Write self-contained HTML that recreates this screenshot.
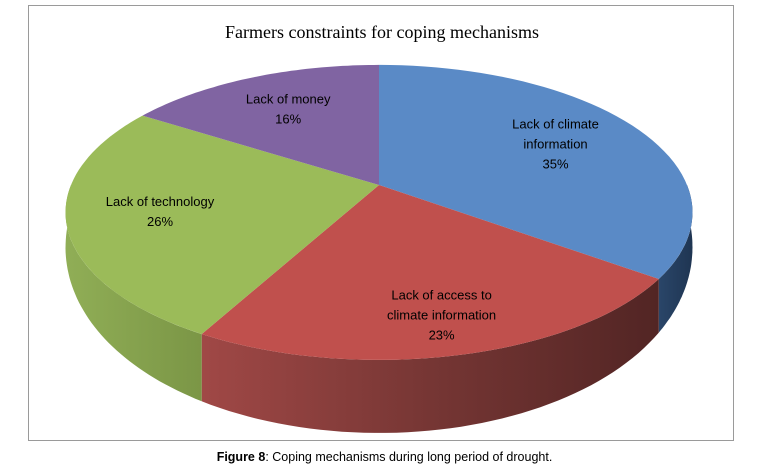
<!DOCTYPE html>
<html><head><meta charset="utf-8"><style>
body{margin:0;background:#fff;width:769px;height:469px;overflow:hidden;font-family:"Liberation Sans",sans-serif}
#frame{position:absolute;left:28px;top:5px;width:706px;height:436px;border:1px solid #9a9a9a;box-sizing:border-box}
#cap{position:absolute;left:0;width:769px;top:450px;text-align:center;font-size:12.5px;color:#000}
</style></head><body>
<div id="frame"></div>
<svg id="chart" width="769" height="445" style="position:absolute;left:0;top:0">
<defs>
<linearGradient id="gBlue" x1="0" x2="1"><stop offset="0" stop-color="#2a4669"/><stop offset="1" stop-color="#1f3552"/></linearGradient>
<linearGradient id="gRed" x1="0" x2="1"><stop offset="0" stop-color="#a04846"/><stop offset="0.5" stop-color="#763634"/><stop offset="1" stop-color="#522524"/></linearGradient>
<linearGradient id="gGreen" x1="0" x2="1"><stop offset="0" stop-color="#90ae56"/><stop offset="1" stop-color="#7b9646"/></linearGradient>
<linearGradient id="gPurple" x1="0" x2="1"><stop offset="0" stop-color="#6a538a"/><stop offset="1" stop-color="#5a4676"/></linearGradient>
</defs>
<text x="382" y="38" text-anchor="middle" font-family="Liberation Serif, serif" font-size="18" fill="#000">Farmers constraints for coping mechanisms</text>
<g id="sides"></g><g id="tops"></g><g id="labels"></g>
</svg>
<div id="cap"><b>Figure 8</b>: Coping mechanisms during long period of drought.</div>
<script>
const categories = ["Lack of climate information", "Lack of access to climate information", "Lack of technology", "Lack of money"];
const values = [35, 23, 26, 16];
const labelLines = [["Lack of climate","information","35%"],["Lack of access to","climate information","23%"],["Lack of technology","26%"],["Lack of money","16%"]];
const topColors = ["#5a8ac6","#c0504d","#9bbb59","#8064a2"];
const sideFills = ["url(#gBlue)","url(#gRed)","url(#gGreen)","url(#gPurple)"];
const cx=379, cy=185, A=308, B=142.4, K=0.186, D0=26, D1=47;
const ns="http://www.w3.org/2000/svg";
function proj(a,r,bottom){
  const u=Math.sin(a)*r, v=-Math.cos(a)*r, w=1-K*v;
  let x=cx+A*u/w, y=cy+B*v/w;
  if(bottom) y+=D0+D1*Math.max(v,0);
  return [x,y];
}
function arcPts(a0,a1,bottom){const n=50,p=[];for(let i=0;i<=n;i++){p.push(proj(a0+(a1-a0)*i/n,1,bottom));}return p;}
function ds(p){return p.map(q=>q[0].toFixed(1)+","+q[1].toFixed(1)).join("L");}
const total=values.reduce((s,v)=>s+v,0);
let acc=0;
const sides=document.getElementById('sides'),tops=document.getElementById('tops'),labels=document.getElementById('labels');
values.forEach((v,i)=>{
  const a0=acc/total*2*Math.PI, a1=(acc+v)/total*2*Math.PI; acc+=v;
  const s0=Math.max(a0,Math.PI/2), s1=Math.min(a1,3*Math.PI/2);
  if(s1>s0){
    const up=arcPts(s0,s1,false), dn=arcPts(s1,s0,true);
    const sp=document.createElementNS(ns,'path');
    sp.setAttribute('d',"M"+ds(up.concat(dn))+"Z");
    sp.setAttribute('fill',sideFills[i]);
    
    
    sides.appendChild(sp);
  }
  const tp=document.createElementNS(ns,'path');
  tp.setAttribute('d',"M"+cx+","+cy+"L"+ds(arcPts(a0,a1,false))+"Z");
  tp.setAttribute('fill',topColors[i]);
  
  
  tops.appendChild(tp);
  const am=(a0+a1)/2, vv=-Math.cos(am);
  const lp=proj(am,0.68+0.12*Math.max(0,vv),false);
  const lines=labelLines[i];
  const t=document.createElementNS(ns,'text');
  t.setAttribute('text-anchor','middle');t.setAttribute('font-size','13');t.setAttribute('fill','#000');
  t.setAttribute('font-family','Liberation Sans, sans-serif');
  
  
  lines.forEach((l,k)=>{const ts=document.createElementNS(ns,'tspan');ts.setAttribute('x',lp[0].toFixed(1));ts.setAttribute('y',(lp[1]-(lines.length-1)*10+k*20+5).toFixed(1));ts.textContent=l;t.appendChild(ts);});
  labels.appendChild(t);
});
</script>
</body></html>
